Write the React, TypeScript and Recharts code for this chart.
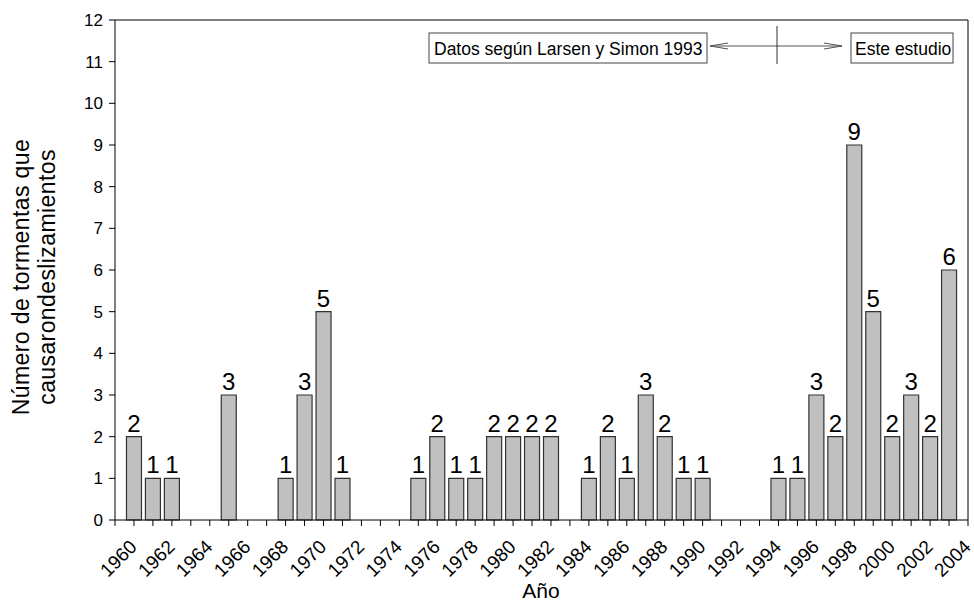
import { BarChart, Bar, XAxis, YAxis, LabelList, ReferenceLine, Customized } from "recharts";

// years with at least one storm; missing years are zero
const years = [
  1960, 1961, 1962, 1965, 1968, 1969, 1970, 1971, 1975, 1976, 1977, 1978, 1979, 1980, 1981, 1982,
  1984, 1985, 1986, 1987, 1988, 1989, 1990, 1994, 1995, 1996, 1997, 1998, 1999, 2000, 2001, 2002, 2003,
];
const counts = [
  2, 1, 1, 3, 1, 3, 5, 1, 1, 2, 1, 1, 2, 2, 2, 2,
  1, 2, 1, 3, 2, 1, 1, 1, 1, 3, 2, 9, 5, 2, 3, 2, 6,
];
const xTicks = [
  1959, 1960, 1961, 1962, 1963, 1964, 1965, 1966, 1967, 1968, 1969, 1970, 1971, 1972, 1973, 1974,
  1975, 1976, 1977, 1978, 1979, 1980, 1981, 1982, 1983, 1984, 1985, 1986, 1987, 1988, 1989, 1990,
  1991, 1992, 1993, 1994, 1995, 1996, 1997, 1998, 1999, 2000, 2001, 2002, 2003, 2004,
];
const yTicks = [0, 1, 2, 3, 4, 5, 6, 7, 8, 9, 10, 11, 12];

const data = years.map((y, i) => ({ year: y, count: counts[i] }));

const FONT = "'Liberation Sans', Arial, sans-serif";

const YearTick = (props: any) => {
  const { x, y, payload } = props;
  if (payload.value % 2 !== 0) return null;
  const px = x + 4;
  const py = y + 20;
  return (
    <text
      x={px}
      y={py}
      transform={`rotate(-45 ${px} ${py})`}
      textAnchor="end"
      fontSize={19}
      fontFamily={FONT}
      fill="#000"
    >
      {payload.value}
    </text>
  );
};

const Notes = () => (
  <g fontFamily={FONT} fontSize={17.5} fill="#000">
    <rect x={429} y={33} width={278} height={30} fill="#fff" stroke="#444" />
    <text x={434} y={54.5}>Datos según Larsen y Simon 1993</text>
    <line x1={710} y1={46} x2={842} y2={46} stroke="#555" />
    <polyline points="728,43 710,46 728,49" fill="none" stroke="#555" />
    <polyline points="824,43 842,46 824,49" fill="none" stroke="#555" />
    <line x1={777} y1={26} x2={777} y2={64} stroke="#333" />
    <rect x={851} y={33} width={102} height={30} fill="#fff" stroke="#444" />
    <text x={855} y={54.5}>Este estudio</text>
    <text
      x={29}
      y={277}
      transform="rotate(-90 29 277)"
      textAnchor="middle"
      fontSize={23}
      letterSpacing={0.4}
    >
      Número de tormentas que
    </text>
    <text
      x={55}
      y={277}
      transform="rotate(-90 55 277)"
      textAnchor="middle"
      fontSize={23}
      letterSpacing={0.4}
    >
      causarondeslizamientos
    </text>
    <text x={541} y={598} textAnchor="middle" fontSize={21}>
      Año
    </text>
  </g>
);

export default function App() {
  return (
    <div style={{ position: "absolute", left: 0, top: 0, background: "#fff" }}>
      <BarChart
        width={974}
        height={601}
        data={data}
        margin={{ top: 20, right: 6, bottom: 0, left: 0 }}
      >
        <XAxis
          dataKey="year"
          type="number"
          domain={[1959, 2004]}
          ticks={xTicks}
          interval={0}
          height={81}
          tickSize={6}
          tick={<YearTick />}
          axisLine={{ stroke: "#000" }}
          tickLine={{ stroke: "#000" }}
        />
        <YAxis
          type="number"
          domain={[0, 12]}
          ticks={yTicks}
          interval={0}
          width={115}
          tickSize={6}
          tickMargin={6}
          tick={{ fill: "#000", fontSize: 17, fontFamily: FONT }}
          axisLine={{ stroke: "#000" }}
          tickLine={{ stroke: "#000" }}
        />
        <ReferenceLine y={12} stroke="#000" />
        <ReferenceLine x={2004} stroke="#000" />
        <Bar dataKey="count" barSize={15} fill="#c0c0c0" stroke="#333" strokeWidth={1.2} isAnimationActive={false}>
          <LabelList dataKey="count" position="top" offset={5} fontSize={24} fill="#000" fontFamily={FONT} />
        </Bar>
        <Customized component={Notes} />
      </BarChart>
    </div>
  );
}
